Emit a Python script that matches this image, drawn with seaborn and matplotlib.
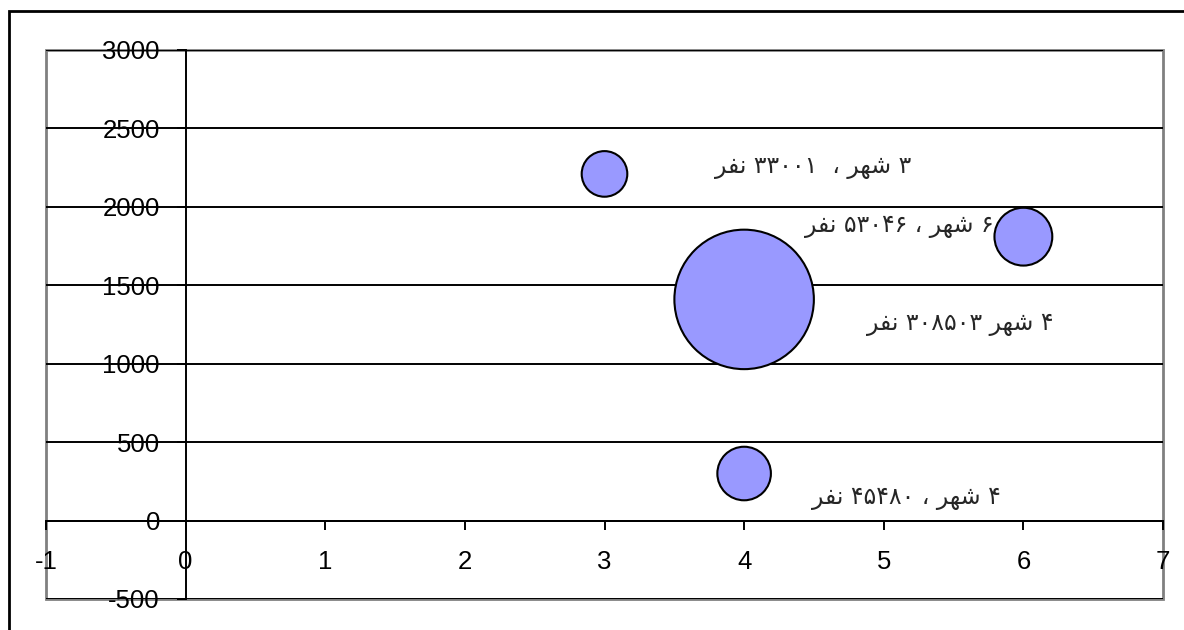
import re

import numpy as np
import pandas as pd
import matplotlib.pyplot as plt
import seaborn as sns
from matplotlib.patches import Rectangle

sns.set_style('white')
plt.rcParams['font.family'] = ['Liberation Sans', 'DejaVu Sans']
plt.rcParams['axes.unicode_minus'] = False

# number of cities (x), value (y), population (bubble size)
cities = [3, 6, 4, 4]
values = [2210, 1810, 1410, 300]
population = [33001, 53046, 308503, 45480]
labels = ["۳ شهر ،  ۳۳۰۰۱ نفر", "۶ شهر ، ۵۳۰۴۶ نفر", "۴ شهر ۳۰۸۵۰۳ نفر", "۴ شهر ، ۴۵۴۸۰ نفر"]

x_ticks = list(range(-1, 8))
y_ticks = list(range(-500, 3001, 500))

# matplotlib has no arabic shaping, so do the few letters we need by hand
FORMS = {
    'ش': ('\uFEB5', '\uFEB6', '\uFEB7', '\uFEB8'),
    'ه': ('\uFEE9', '\uFEEA', '\uFEEB', '\uFEEC'),
    'ر': ('\uFEAD', '\uFEAE', None, None),
    'ن': ('\uFEE5', '\uFEE6', '\uFEE7', '\uFEE8'),
    'ف': ('\uFED1', '\uFED2', '\uFED3', '\uFED4'),
}
NO_LEFT_JOIN = {'ر'}


def rtl(s):
    out = []
    for i, ch in enumerate(s):
        if ch not in FORMS:
            out.append(ch)
            continue
        prev = s[i - 1] if i > 0 else ''
        nxt = s[i + 1] if i + 1 < len(s) else ''
        jp = prev in FORMS and prev not in NO_LEFT_JOIN
        jn = nxt in FORMS and ch not in NO_LEFT_JOIN
        iso, fin, ini, med = FORMS[ch]
        out.append(med if jp and jn else fin if jp else ini if jn else iso)
    vis = ''.join(out)[::-1]
    return re.sub('[۰-۹]+', lambda m: m.group()[::-1], vis)


df = pd.DataFrame({"cities": cities, "value": values, "population": population})

fig = plt.figure(figsize=(11.84, 6.3), dpi=100)
ax = fig.add_axes([46 / 1184, 1 - 599 / 630, 1117 / 1184, 549 / 630])

sns.scatterplot(data=df, x="cities", y="value", size="population",
                sizes=(0, 10085), size_norm=(0, max(population)),
                color="#9999FF", edgecolor="black", linewidth=1.5,
                alpha=1, legend=False, zorder=3, ax=ax)

ax.set_xlim(-1, 7)
ax.set_ylim(-500, 3000)
ax.set_xticks(x_ticks)
ax.set_yticks(y_ticks)
ax.set_xlabel("")
ax.set_ylabel("")
ax.grid(axis='y', color='black', lw=1.4)
ax.grid(axis='x', visible=False)
ax.set_axisbelow(True)

for side in ['top', 'right']:
    ax.spines[side].set_visible(False)
ax.spines['left'].set_position(('data', 0))
ax.spines['bottom'].set_position(('data', 0))
for side in ['left', 'bottom']:
    ax.spines[side].set_color('black')
    ax.spines[side].set_linewidth(1.4)
ax.add_patch(Rectangle((0, 0), 1, 1, transform=ax.transAxes, fill=False,
                       edgecolor='#808080', lw=2, zorder=0, clip_on=False))

ax.tick_params(axis='y', direction='out', length=6.5, width=1.4, pad=12,
               labelsize=18.5, colors='black', left=True)
ax.tick_params(axis='x', direction='out', length=6.5, width=1.4, pad=15,
               labelsize=18.5, colors='black', bottom=True)

offsets = [(209, 7), (-124, 11), (216, -25), (162, -24)]
for cx, cy, lab, off in zip(cities, values, labels, offsets):
    ax.annotate(rtl(lab), xy=(cx, cy), xytext=off, textcoords='offset pixels',
                ha='center', va='center', fontsize=17, family='DejaVu Sans',
                zorder=4)

fig.add_artist(Rectangle((9 / 1184, -0.5), 2, 1.5 - 11 / 630, transform=fig.transFigure,
                         fill=False, edgecolor='black', lw=2))

fig.savefig("out.png", dpi=100)
